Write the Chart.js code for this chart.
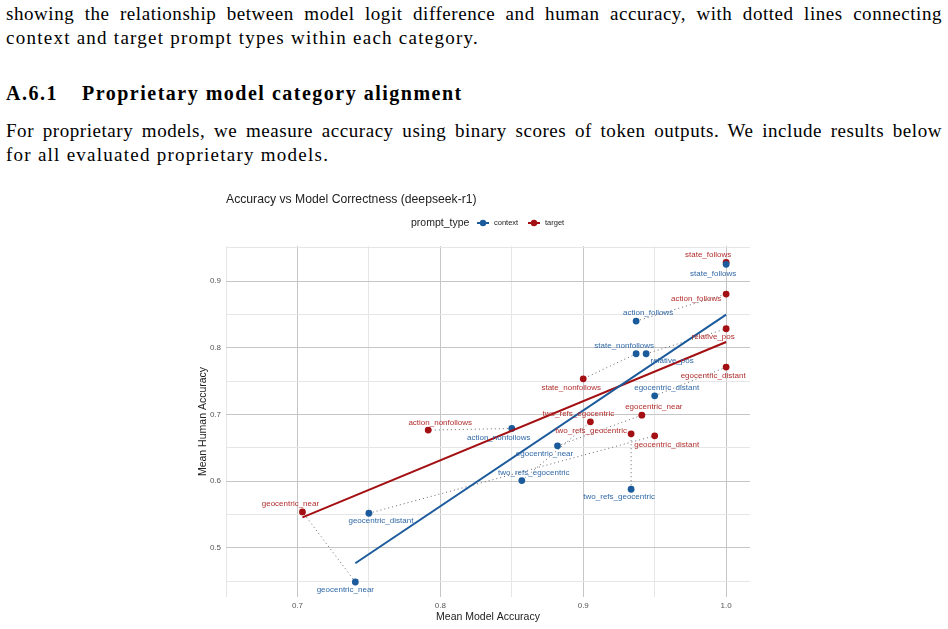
<!DOCTYPE html>
<html>
<head>
<meta charset="utf-8">
<script src="https://cdn.jsdelivr.net/npm/chart.js@4.4.0/dist/chart.umd.min.js"></script>
<style>
  body { margin: 0; width: 948px; height: 629px; background: #fff; overflow: hidden; position: relative; font-family: "Liberation Serif", serif; color: #000; }
  .ln { position: absolute; left: 6px; width: 936px; font-size: 19px; line-height: 23px; letter-spacing: 1.25px; white-space: nowrap; }
  .just { text-align: justify; text-align-last: justify; white-space: normal; letter-spacing: 0.55px; }
  .head { font-weight: bold; font-size: 20px; letter-spacing: 1.5px; }
  .head span { display: inline-block; width: 76px; }
  #chart { position: absolute; left: 0; top: 185px; }
</style>
</head>
<body>
<div class="ln just" style="top:2px">showing the relationship between model logit difference and human accuracy, with dotted lines connecting</div>
<div class="ln" style="top:26px">context and target prompt types within each category.</div>
<div class="ln head" style="top:82px"><span>A.6.1</span>Proprietary model category alignment</div>
<div class="ln just" style="top:119px">For proprietary models, we measure accuracy using binary scores of token outputs. We include results below</div>
<div class="ln" style="top:143px">for all evaluated proprietary models.</div>
<canvas id="chart" width="948" height="444"></canvas>
<script>
// prompt categories, same order for both prompt types
const categories = ['state_follows', 'action_follows', 'state_nonfollows', 'relative_pos', 'egocentric_distant',
  'egocentric_near', 'two_refs_egocentric', 'two_refs_geocentric', 'geocentric_distant', 'action_nonfollows', 'geocentric_near'];

// context prompts
const contextModel = [1.0, 0.937, 0.937, 0.944, 0.950, 0.882, 0.857, 0.9335, 0.750, 0.850, 0.7405];
const contextHuman = [0.925, 0.840, 0.791, 0.791, 0.728, 0.653, 0.601, 0.588, 0.552, 0.679, 0.449];

// target prompts
const targetModel = [1.0, 1.0, 0.900, 1.0, 1.0, 0.941, 0.905, 0.9335, 0.950, 0.7915, 0.7035];
const targetHuman = [0.928, 0.8805, 0.7535, 0.8285, 0.771, 0.699, 0.689, 0.671, 0.668, 0.6766, 0.554];

const xTicks = [0.65, 0.7, 0.75, 0.8, 0.85, 0.9, 0.95, 1.0];
const yTicks = [0.45, 0.5, 0.55, 0.6, 0.65, 0.7, 0.75, 0.8, 0.85, 0.9, 0.95];

// label nudges in px (repel-style placement)
const contextLabelOffset = [[-13, 9], [12, -8], [-12, -8], [26, 7], [12, -8], [-13, 8], [12, -8], [-12, 8], [12, 8], [-13, 9], [-10, 8]];
const targetLabelOffset = [[-18, -8], [-30, 5], [-12, 9], [-13, 8], [-13, 9], [12, -8], [-12, -8], [-40, -3], [12, 9], [12, -7], [-12, -8]];

const BLUE = '#1b5a9b';
const RED = '#a30f12';
const BLUE_TXT = '#3169a6';
const RED_TXT = '#b22e2e';

const toPoints = (xs, ys) => xs.map((x, i) => ({ x: x, y: ys[i] }));

// least squares fit, drawn over the x range of the series
function fitLine(xs, ys) {
  const n = xs.length;
  const mx = xs.reduce((a, b) => a + b, 0) / n;
  const my = ys.reduce((a, b) => a + b, 0) / n;
  let sxy = 0, sxx = 0;
  for (let i = 0; i < n; i++) {
    sxy += (xs[i] - mx) * (ys[i] - my);
    sxx += (xs[i] - mx) * (xs[i] - mx);
  }
  const b = sxy / sxx;
  const a = my - b * mx;
  const lo = Math.min(...xs), hi = Math.max(...xs);
  return [{ x: lo, y: a + b * lo }, { x: hi, y: a + b * hi }];
}

const isMajor = v => Math.abs(v * 10 - Math.round(v * 10)) < 1e-6;

const connectors = {
  id: 'connectors',
  beforeDatasetsDraw(chart) {
    const { ctx, scales: { x, y } } = chart;
    ctx.save();
    ctx.strokeStyle = '#666';
    ctx.lineWidth = 1;
    ctx.setLineDash([1, 3]);
    categories.forEach((c, i) => {
      ctx.beginPath();
      ctx.moveTo(x.getPixelForValue(contextModel[i]), y.getPixelForValue(contextHuman[i]));
      ctx.lineTo(x.getPixelForValue(targetModel[i]), y.getPixelForValue(targetHuman[i]));
      ctx.stroke();
    });
    ctx.restore();
  }
};

const pointLabels = {
  id: 'pointLabels',
  afterDatasetsDraw(chart) {
    const { ctx, scales: { x, y } } = chart;
    ctx.save();
    ctx.font = '8px "Liberation Sans", Arial, sans-serif';
    ctx.textAlign = 'center';
    ctx.textBaseline = 'middle';
    categories.forEach((c, i) => {
      ctx.fillStyle = RED_TXT;
      ctx.fillText(c, x.getPixelForValue(targetModel[i]) + targetLabelOffset[i][0], y.getPixelForValue(targetHuman[i]) + targetLabelOffset[i][1]);
      ctx.fillStyle = BLUE_TXT;
      ctx.fillText(c, x.getPixelForValue(contextModel[i]) + contextLabelOffset[i][0], y.getPixelForValue(contextHuman[i]) + contextLabelOffset[i][1]);
    });
    ctx.restore();
  }
};

const header = {
  id: 'header',
  afterDraw(chart) {
    const ctx = chart.ctx;
    ctx.save();
    ctx.textBaseline = 'middle';
    ctx.fillStyle = '#222';
    ctx.font = '12.2px "Liberation Sans", Arial, sans-serif';
    ctx.fillText('Accuracy vs Model Correctness (deepseek-r1)', 226, 15);
    ctx.font = '10.5px "Liberation Sans", Arial, sans-serif';
    ctx.fillText('prompt_type', 411, 38);
    const keys = [['context', BLUE, 477], ['target', RED, 528]];
    keys.forEach(([name, col, kx]) => {
      ctx.strokeStyle = col;
      ctx.lineWidth = 2;
      ctx.beginPath();
      ctx.moveTo(kx, 38);
      ctx.lineTo(kx + 12, 38);
      ctx.stroke();
      ctx.fillStyle = col;
      ctx.beginPath();
      ctx.arc(kx + 6, 38, 3.2, 0, Math.PI * 2);
      ctx.fill();
      ctx.fillStyle = '#222';
      ctx.font = '7.5px "Liberation Sans", Arial, sans-serif';
      ctx.fillText(name, kx + 17, 38);
    });
    ctx.restore();
  }
};

const gridColor = c => (isMajor(c.tick.value) ? '#c6c6c6' : '#e6e6e6');

new Chart(document.getElementById('chart').getContext('2d'), {
  type: 'scatter',
  data: {
    datasets: [
      { type: 'line', data: fitLine(contextModel, contextHuman), borderColor: BLUE, borderWidth: 2, pointRadius: 0, fill: false },
      { type: 'line', data: fitLine(targetModel, targetHuman), borderColor: RED, borderWidth: 2, pointRadius: 0, fill: false },
      { label: 'context', data: toPoints(contextModel, contextHuman), backgroundColor: BLUE, borderWidth: 0, pointRadius: 3.4 },
      { label: 'target', data: toPoints(targetModel, targetHuman), backgroundColor: RED, borderWidth: 0, pointRadius: 3.4 }
    ]
  },
  options: {
    responsive: false,
    animation: false,
    devicePixelRatio: 1,
    layout: { padding: { left: 190, right: 198, top: 61, bottom: 0 } },
    plugins: { legend: { display: false }, tooltip: { enabled: false } },
    scales: {
      x: {
        type: 'linear', min: 0.65, max: 1.0167,
        afterBuildTicks: s => { s.ticks = xTicks.map(v => ({ value: v })); },
        afterFit: s => { s.height = 32; },
        border: { display: false },
        grid: { color: gridColor, lineWidth: 1, drawTicks: false },
        ticks: { autoSkip: false, maxRotation: 0, padding: 4, color: '#555', font: { size: 8, family: '"Liberation Sans", Arial' },
          callback: v => (isMajor(v) ? v.toFixed(1) : '') },
        title: { display: true, text: 'Mean Model Accuracy', color: '#222', font: { size: 10.5, family: '"Liberation Sans", Arial' }, padding: { top: 0, bottom: 6 } }
      },
      y: {
        type: 'linear', min: 0.4265, max: 0.9525,
        afterBuildTicks: s => { s.ticks = yTicks.map(v => ({ value: v })); },
        afterFit: s => { s.width = 36; },
        border: { display: false },
        grid: { color: gridColor, lineWidth: 1, drawTicks: false },
        ticks: { autoSkip: false, padding: 5, color: '#555', font: { size: 8, family: '"Liberation Sans", Arial' },
          callback: v => (isMajor(v) ? v.toFixed(1) : '') },
        title: { display: true, text: 'Mean Human Accuracy', color: '#222', font: { size: 10.5, family: '"Liberation Sans", Arial' }, padding: { top: 7, bottom: 0 } }
      }
    }
  },
  plugins: [connectors, pointLabels, header]
});
</script>
</body>
</html>
